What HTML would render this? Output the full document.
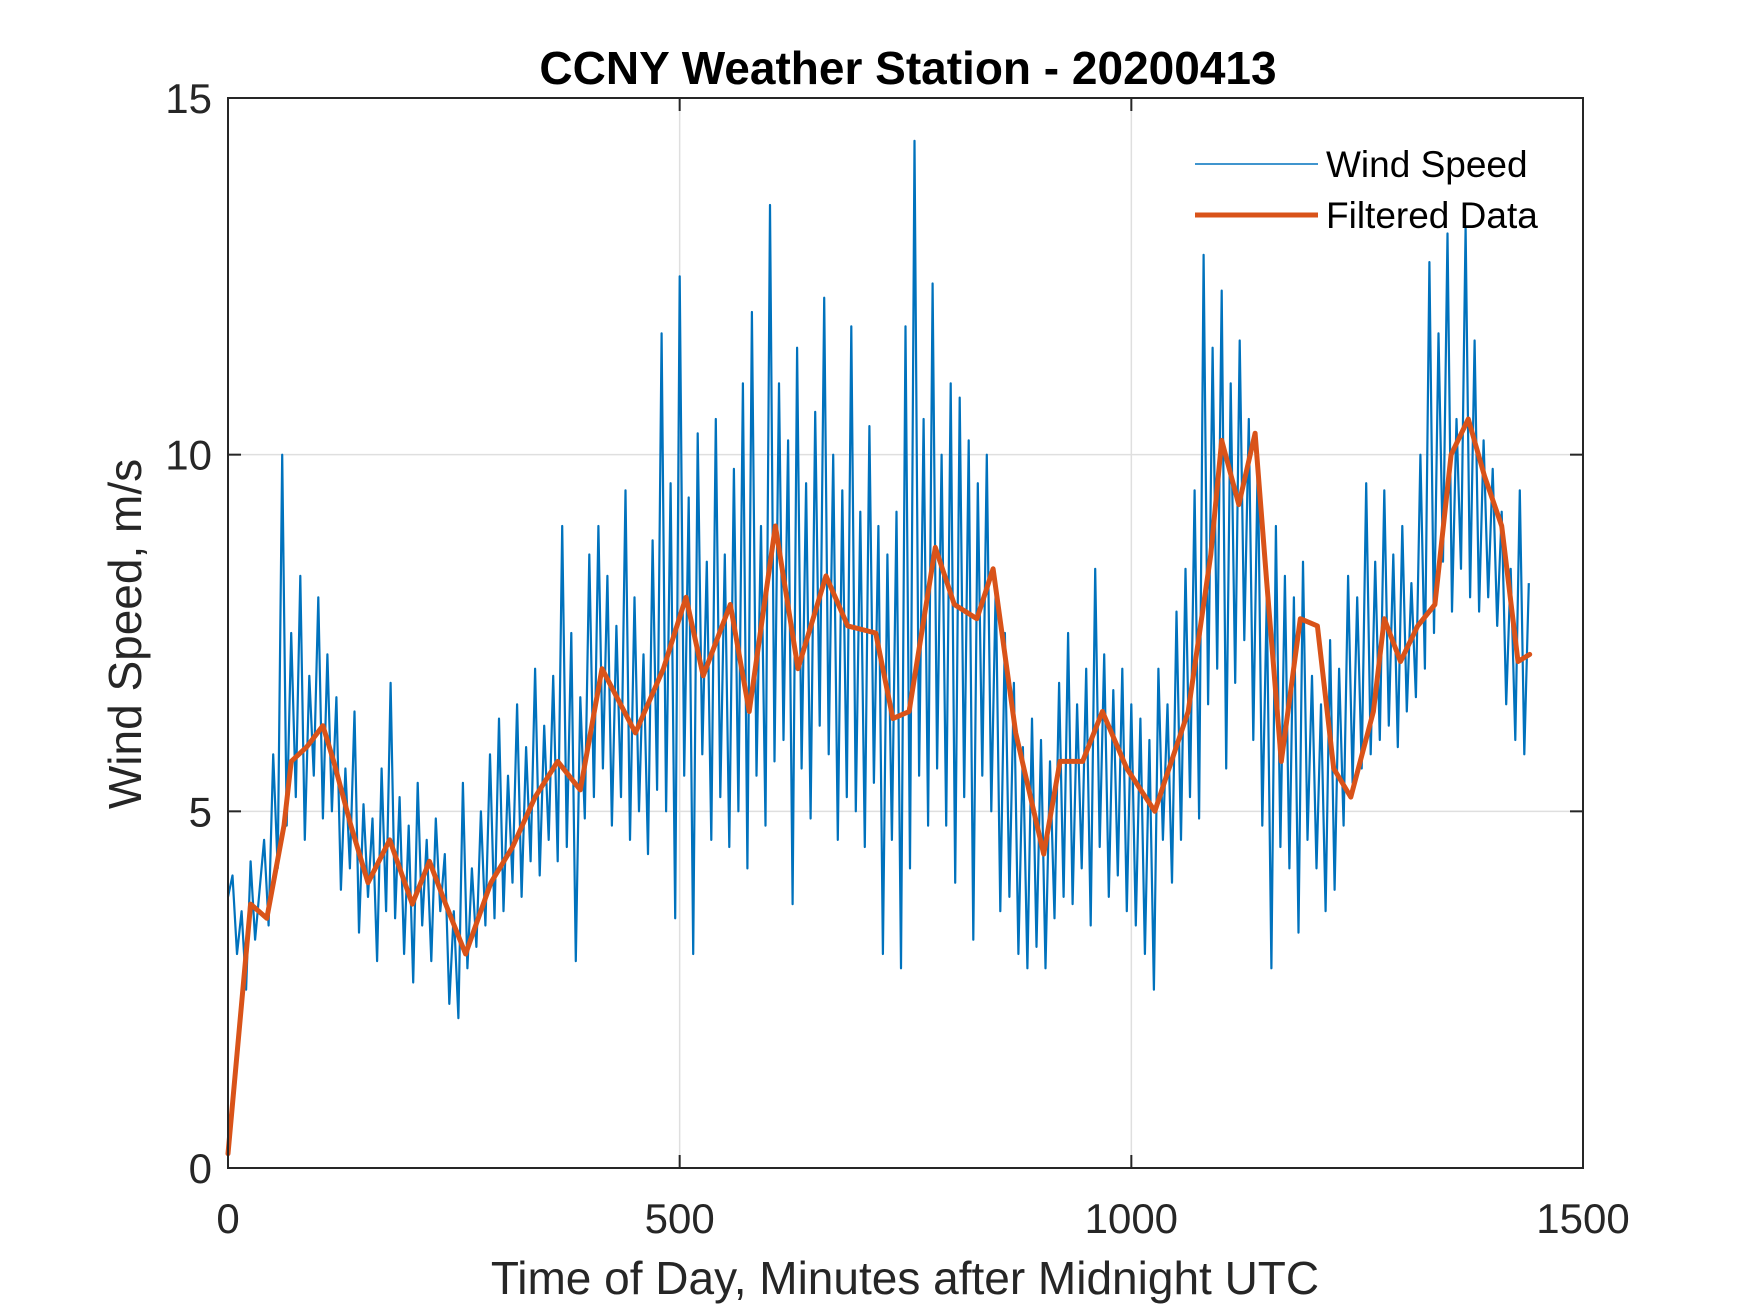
<!DOCTYPE html>
<html><head><meta charset="utf-8">
<style>
html,body{margin:0;padding:0;background:#fff;}
svg{display:block;font-family:"Liberation Sans",Arial,sans-serif;}
</style></head>
<body>
<svg id="chart" width="1750" height="1313" viewBox="0 0 1750 1313" xmlns="http://www.w3.org/2000/svg">
<rect width="1750" height="1313" fill="#fff"/>
<g id="grid"></g>
<g id="series"></g>
<g id="axes"></g>
<text x="908" y="84" text-anchor="middle" font-size="46" font-weight="bold" fill="#000">CCNY Weather Station - 20200413</text>
<text x="905" y="1294" text-anchor="middle" font-size="46" fill="#262626">Time of Day, Minutes after Midnight UTC</text>
<text transform="translate(141,634) rotate(-90)" text-anchor="middle" font-size="46" fill="#262626">Wind Speed, m/s</text>
<g>
<line x1="1195" y1="164" x2="1318" y2="164" stroke="#0072BD" stroke-width="1.5"/>
<text x="1326" y="177" font-size="37" fill="#000">Wind Speed</text>
<line x1="1195" y1="215" x2="1318" y2="215" stroke="#D95319" stroke-width="5"/>
<text x="1326" y="228" font-size="37" fill="#000">Filtered Data</text>
</g>
</svg>
<script>
const rawStep = 5;
const rawValues = [
3.8,4.1,3.0,3.6,2.5,4.3,3.2,3.9,4.6,3.4,5.8,4.2,
10.0,4.8,7.5,5.2,8.3,4.6,6.9,5.5,8.0,4.9,7.2,5.0,
6.6,3.9,5.6,4.2,6.4,3.3,5.1,3.8,4.9,2.9,5.6,3.6,
6.8,3.5,5.2,3.0,4.8,2.6,5.4,3.4,4.6,2.9,4.9,3.6,
4.4,2.3,3.6,2.1,5.4,2.8,4.2,3.1,5.0,3.4,5.8,3.5,
6.3,3.6,5.5,4.0,6.5,3.8,5.9,4.3,7.0,4.1,6.2,4.6,
6.9,4.3,9.0,4.5,7.5,2.9,6.6,4.9,8.6,5.2,9.0,5.6,
8.3,4.8,7.6,5.2,9.5,4.6,8.0,5.0,7.2,4.4,8.8,5.3,
11.7,5.0,9.6,3.5,12.5,5.5,9.4,3.0,10.3,5.8,8.5,4.6,
10.5,5.2,8.6,4.5,9.8,5.0,11.0,4.2,12.0,5.5,9.0,4.8,
13.5,5.7,11.0,6.0,10.2,3.7,11.5,5.6,9.6,4.9,10.6,6.2,
12.2,5.8,10.0,4.6,9.5,5.2,11.8,5.0,9.2,4.5,10.4,5.4,
9.0,3.0,8.6,4.6,9.2,2.8,11.8,4.2,14.4,5.5,10.5,4.8,
12.4,5.6,10.0,4.8,11.0,4.0,10.8,5.2,10.2,3.2,9.6,5.5,
10.0,5.0,8.2,3.6,7.5,3.8,6.8,3.0,5.9,2.8,6.3,3.1,
6.0,2.8,5.7,3.5,6.8,3.8,7.5,3.7,6.5,4.2,7.0,3.4,
8.4,4.5,7.2,3.8,6.7,4.1,7.0,3.6,6.5,3.4,6.3,3.0,
6.0,2.5,7.0,4.6,6.5,4.0,7.8,4.6,8.4,5.2,9.5,4.9,
12.8,6.5,11.5,7.0,12.3,5.6,11.0,6.8,11.6,7.4,10.5,6.0,
10.0,4.8,8.0,2.8,9.0,4.5,8.3,4.2,8.0,3.3,8.5,4.6,
6.9,4.2,6.5,3.6,7.4,3.9,7.0,4.8,8.3,5.4,8.0,5.6,
9.6,5.8,8.5,6.0,9.5,6.2,8.6,5.9,9.0,6.4,8.2,6.6,
10.0,7.0,12.7,7.5,11.7,8.5,13.1,7.8,10.5,8.4,13.2,8.0,
11.6,7.8,10.2,8.0,9.8,7.6,9.2,6.5,8.4,6.0,9.5,5.8,
8.2];
const filtT = [0,25,43,62,70,87,105,117,136,155,179,204,223,241,263,291,315,340,365,390,414,451,482,507,526,556,577,606,631,662,686,717,736,754,783,804,829,847,872,903,921,946,968,995,1026,1039,1063,1088,1100,1119,1137,1150,1166,1187,1206,1224,1243,1268,1280,1298,1317,1336,1354,1373,1391,1410,1428,1441];
const filtV = [0.2,3.7,3.5,4.8,5.7,5.9,6.2,5.7,4.8,4.0,4.6,3.7,4.3,3.7,3.0,4.0,4.5,5.2,5.7,5.3,7.0,6.1,7.0,8.0,6.9,7.9,6.4,9.0,7.0,8.3,7.6,7.5,6.3,6.4,8.7,7.9,7.7,8.4,6.1,4.4,5.7,5.7,6.4,5.6,5.0,5.5,6.4,8.6,10.2,9.3,10.3,8.2,5.7,7.7,7.6,5.6,5.2,6.4,7.7,7.1,7.6,7.9,10.0,10.5,9.7,9.0,7.1,7.2];
const xTicks = [0,500,1000,1500];
const yTicks = [0,5,10,15];
const xTickLabels = ["0","500","1000","1500"];
const yTickLabels = ["0","5","10","15"];

const L=228,R=1583,T=98,B=1168;
const xMin=0,xMax=1500,yMin=0,yMax=15;
function sx(v){return L+(v-xMin)/(xMax-xMin)*(R-L);}
function sy(v){return B-(v-yMin)/(yMax-yMin)*(B-T);}
const NS="http://www.w3.org/2000/svg";
function mk(tag,attrs,parent){const e=document.createElementNS(NS,tag);for(const k in attrs)e.setAttribute(k,attrs[k]);parent.appendChild(e);return e;}
const grid=document.getElementById('grid'),series=document.getElementById('series'),axes=document.getElementById('axes');

xTicks.forEach((t,i)=>{
  if(t>xMin&&t<xMax){const g=mk('line',{x1:sx(t),x2:sx(t),y1:T,y2:B,stroke:'#dfdfdf','stroke-width':1.5},grid);
  
  }
  const a=mk('line',{x1:sx(t),x2:sx(t),y1:B,y2:B-13,stroke:'#262626','stroke-width':2},axes);
  
  
  const b=mk('line',{x1:sx(t),x2:sx(t),y1:T,y2:T+13,stroke:'#262626','stroke-width':2},axes);
  
  
  const tx=mk('text',{x:sx(t),y:1233,'text-anchor':'middle','font-size':42,fill:'#262626'},axes);
  tx.textContent=xTickLabels[i];
  
  
});
yTicks.forEach((t,i)=>{
  if(t>yMin&&t<yMax){const g=mk('line',{x1:L,x2:R,y1:sy(t),y2:sy(t),stroke:'#dfdfdf','stroke-width':1.5},grid);
  
  }
  const a=mk('line',{x1:L,x2:L+13,y1:sy(t),y2:sy(t),stroke:'#262626','stroke-width':2},axes);
  
  
  const b=mk('line',{x1:R,x2:R-13,y1:sy(t),y2:sy(t),stroke:'#262626','stroke-width':2},axes);
  
  
  const tx=mk('text',{x:212,y:sy(t)+15,'text-anchor':'end','font-size':42,fill:'#262626'},axes);
  tx.textContent=yTickLabels[i];
  
  
});
const frame=mk('rect',{x:L,y:T,width:R-L,height:B-T,fill:'none',stroke:'#262626','stroke-width':2},axes);



const rawPts=rawValues.map((v,i)=>sx(i*rawStep).toFixed(1)+','+sy(v).toFixed(1)).join(' ');
const rawLine=mk('polyline',{points:rawPts,fill:'none',stroke:'#0072BD','stroke-width':2.2,'stroke-linejoin':'round'},series);


const fPts=filtT.map((t,i)=>sx(t).toFixed(1)+','+sy(filtV[i]).toFixed(1)).join(' ');
const fLine=mk('polyline',{points:fPts,fill:'none',stroke:'#D95319','stroke-width':5,'stroke-linejoin':'round','stroke-linecap':'round'},series);


</script>
</body></html>
